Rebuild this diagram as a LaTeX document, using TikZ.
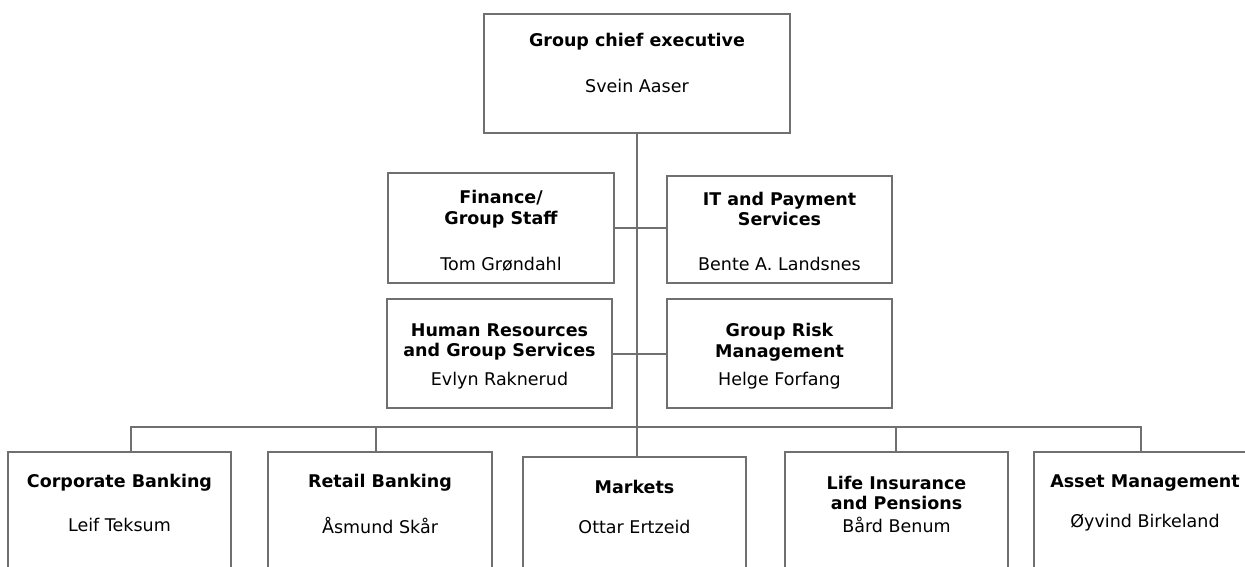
\documentclass[tikz,border=0pt]{standalone}
\usepackage{fontspec}
\setmainfont{DejaVu Sans}
\usetikzlibrary{positioning, calc}
\definecolor{linegray}{RGB}{112,112,112}

\begin{document}
\begin{tikzpicture}[x=1pt,y=-1pt,
        unit/.style={rectangle, draw=linegray, line width=1.6pt, inner sep=0pt},
        head/.style={font=\fontsize{17.5}{20.5}\selectfont\bfseries, align=center},
        who/.style={font=\fontsize{17.5}{20.5}\selectfont},
        link/.style={draw=linegray, line width=2pt, line cap=rect}]

            \useasboundingbox (0,0) rectangle (1245,567);
            \clip (0,0) rectangle (1245,567);

            % boxes
            \node[unit, minimum width=306, minimum height=119] (ceo) at (637,73.5) {};
            \node[unit, minimum width=226, minimum height=110] (fin) at (501,228) {};
            \node[unit, minimum width=225, minimum height=107] (it) at (779.5,229.5) {};
            \node[unit, minimum width=225, minimum height=109] (hr) at (499.5,353.5) {};
            \node[unit, minimum width=225, minimum height=109] (grm) at (779.5,353.5) {};
            \node[unit, minimum width=223, minimum height=148] (corp) at (119.5,526) {};
            \node[unit, minimum width=224, minimum height=148] (retail) at (380,526) {};
            \node[unit, minimum width=223, minimum height=143] (markets) at (634.5,528.5) {};
            \node[unit, minimum width=223, minimum height=148] (life) at (896.5,526) {};
            \node[unit, minimum width=222, minimum height=148] (asset) at (1145,526) {};

            % texts
            \node[head] (ceo-t) at (637,42) {Group chief executive};
            \node[who] (ceo-n) at (637,86) {Svein Aaser};
            \node[head] (fin-t) at (501,209) {Finance/\\Group Staff};
            \node[who] (fin-n) at (501,264) {Tom Grøndahl};
            \node[head] (it-t) at (779.5,209) {IT and Payment\\Services};
            \node[who] (it-n) at (779.5,264) {Bente A. Landsnes};
            \node[head] (hr-t) at (499.5,342) {Human Resources\\and Group Services};
            \node[who] (hr-n) at (499.5,381) {Evlyn Raknerud};
            \node[head] (grm-t) at (779.5,342) {Group Risk\\Management};
            \node[who] (grm-n) at (779.5,381) {Helge Forfang};
            \node[head] (corp-t) at (119.5,483) {Corporate Banking};
            \node[who] (corp-n) at (119.5,525) {Leif Teksum};
            \node[head] (retail-t) at (380,483) {Retail Banking};
            \node[who] (retail-n) at (380,525) {Åsmund Skår};
            \node[head] (markets-t) at (634.5,487) {Markets};
            \node[who] (markets-n) at (634.5,527) {Ottar Ertzeid};
            \node[head] (life-t) at (896.5,493) {Life Insurance\\and Pensions};
            \node[who] (life-n) at (896.5,525) {Bård Benum};
            \node[head] (asset-t) at (1145,483) {Asset Management};
            \node[who] (asset-n) at (1145,523) {Øyvind Birkeland};

            % bus
            \coordinate (busL) at (131,427);
            \coordinate (busR) at (1141,427);
            \coordinate (d2) at (376,427);
            \coordinate (d4) at (896,427);

            \path[link]
            (ceo.south) edge (ceo.south |- markets.north)
            (fin.east) edge (fin.east -| it.west)
            (hr.east) edge (grm.west)
            (busL) edge (busR)
            (busL) edge (busL |- corp.north)
            (d2) edge (d2 |- retail.north)
            (d4) edge (d4 |- life.north)
            (busR) edge (busR |- asset.north)
            ;
        \end{tikzpicture}
\end{document}
